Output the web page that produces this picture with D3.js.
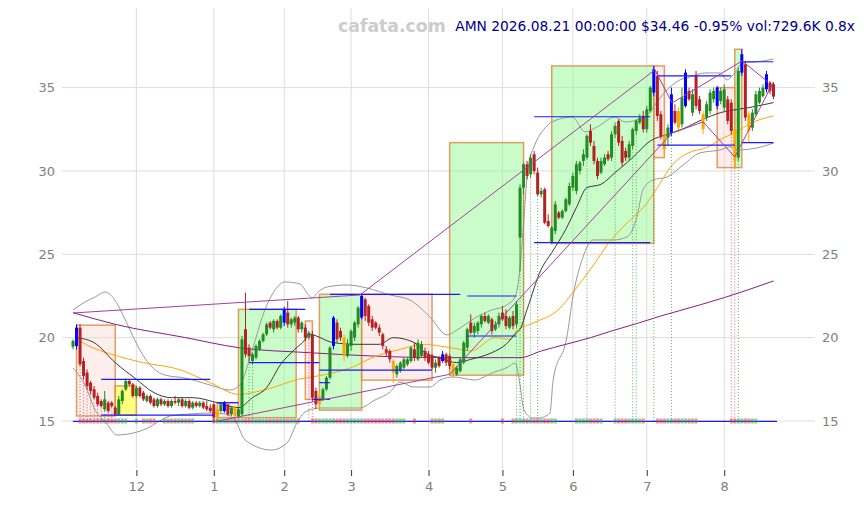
<!DOCTYPE html>
<html><head><meta charset="utf-8">
<script src="https://cdn.jsdelivr.net/npm/d3@7"></script>
<style>body{margin:0;background:#fff;} svg{display:block;font-family:"DejaVu Sans",sans-serif;}</style>
</head><body>
<svg id="c" width="864" height="505"></svg>
<script>
// ---- data ----
const ohlc = [
[19.45,19.9,19.3,19.8],[19.5,20.8,19.3,20.6],[20.6,20.8,18.3,18.4],[18.6,18.8,17.5,17.7],[17.9,18.1,16.9,17.1],
[17.3,17.4,16.6,16.8],[16.9,17.1,16.3,16.4],[16.5,16.7,15.9,16.0],[16.2,16.3,15.8,15.9],[15.7,16.8,15.6,16.3],
[16.1,16.2,15.5,15.6],[16.1,16.2,15.8,15.9],[15.8,15.9,15.3,15.4],[15.4,16.5,15.35,16.3],[16.2,16.9,16.0,16.8],
[16.9,17.55,16.8,17.4],[17.4,17.5,17.1,17.2],[17.2,17.3,16.4,16.5],[16.5,17.1,16.4,17.0],[17.0,17.1,16.4,16.5],
[16.7,16.8,16.2,16.3],[16.2,16.6,16.1,16.5],[16.5,16.6,16.0,16.1],[16.3,16.4,15.8,15.9],[15.9,16.4,15.8,16.3],
[16.3,16.4,15.9,16.0],[16.0,16.3,15.9,16.2],[16.2,16.3,15.8,15.9],[15.9,16.3,15.8,16.2],[16.2,16.5,16.0,16.1],
[16.1,16.4,15.9,16.3],[16.3,16.4,15.8,15.9],[15.9,16.3,15.8,16.2],[16.2,16.3,15.7,15.8],[15.8,16.2,15.7,16.1],
[16.1,16.2,15.8,15.9],[15.9,16.2,15.8,16.1],[16.1,16.2,15.7,15.8],[15.9,16.2,15.6,15.7],[15.8,16.0,15.5,15.6],
[16.0,16.1,14.9,15.2],[15.2,15.9,15.0,15.7],[15.6,16.1,15.5,16.0],[15.6,16.2,15.5,16.1],[16.0,16.0,15.3,15.4],
[15.4,15.9,15.3,15.8],[15.8,15.9,15.0,15.3],[15.3,15.8,15.2,15.7],[15.4,20.1,15.3,19.9],[20.5,22.7,18.8,19.0],
[19.4,19.6,18.6,18.9],[18.6,19.1,18.4,19.0],[18.8,19.6,18.7,19.5],[19.3,19.9,19.2,19.8],[19.8,20.3,19.7,20.2],
[20.2,20.9,20.1,20.8],[20.9,21.0,20.5,20.6],[20.5,21.1,20.3,21.0],[21.0,21.1,20.5,20.6],[20.6,21.4,20.5,21.3],
[20.9,21.85,20.7,21.7],[21.5,22.2,20.6,20.8],[20.8,21.2,20.6,21.1],[20.9,21.3,20.7,21.2],[21.2,21.3,20.3,20.5],
[20.5,21.0,20.3,20.9],[20.6,20.8,19.8,20.0],[20.0,20.4,19.9,20.3],[20.2,20.4,16.2,16.4],[16.8,17.0,15.7,16.0],
[16.0,16.8,15.8,16.5],[16.3,17.0,16.2,16.9],[16.9,17.7,16.8,17.6],[17.6,19.5,17.5,19.4],[19.5,21.3,19.3,21.2],
[20.9,21.1,19.7,19.9],[20.4,20.6,19.8,20.0],[20.0,20.2,18.6,18.9],[18.9,19.9,18.8,19.6],[19.5,20.5,19.2,20.4],
[20.0,21.0,19.8,20.9],[20.8,21.9,20.6,21.8],[21.2,22.65,21.1,22.5],[22.3,22.4,21.0,21.3],[21.9,22.0,20.7,20.9],
[21.1,21.3,20.4,20.6],[20.9,21.0,20.5,20.6],[20.6,20.8,20.1,20.3],[20.2,20.3,19.3,19.5],[19.3,19.5,18.9,19.1],
[19.2,19.3,18.5,18.7],[18.6,18.7,17.3,17.9],[17.8,18.4,17.6,18.3],[18.0,18.6,17.9,18.5],[18.2,18.8,18.1,18.7],
[18.4,18.8,18.3,18.7],[18.6,19.5,18.5,19.4],[19.3,19.7,18.6,18.8],[18.7,19.9,18.6,19.7],[18.9,19.8,18.8,19.6],
[19.2,19.4,18.6,18.8],[19.0,19.2,18.4,18.5],[18.9,19.0,18.1,18.2],[18.2,18.7,17.9,18.5],[18.8,18.9,18.2,18.3],
[18.6,19.2,18.5,19.0],[19.0,19.1,18.3,18.5],[18.9,19.0,18.1,18.3],[18.4,18.6,17.6,17.8],[17.8,18.3,17.7,18.2],
[18.0,18.8,17.9,18.7],[18.5,19.8,18.4,19.7],[19.4,20.6,19.2,20.5],[20.9,21.4,20.2,20.3],[20.3,20.9,20.0,20.7],
[20.4,21.0,20.2,20.9],[20.8,21.4,20.6,21.3],[21.3,21.5,20.9,21.0],[20.9,21.4,20.8,21.3],[21.1,21.2,20.2,20.4],
[20.5,21.0,20.4,20.8],[20.8,21.5,20.6,21.3],[21.5,21.9,21.0,21.1],[21.3,21.7,20.5,20.7],[20.6,21.3,20.5,21.2],
[21.3,21.6,20.5,20.7],[20.8,22.2,20.6,22.0],[26.0,29.2,24.0,29.0],[29.0,30.5,28.6,30.4],[30.4,30.6,29.5,29.7],
[29.8,31.0,29.6,30.8],[31.0,31.2,29.8,30.0],[29.9,30.2,28.5,28.6],[28.6,29.0,28.4,28.8],[28.9,29.0,26.8,26.9],
[27.0,27.4,26.6,26.7],[25.7,26.7,25.6,26.6],[26.4,28.2,26.2,28.0],[27.5,27.6,27.1,27.2],[27.2,27.7,27.1,27.6],
[27.6,28.4,27.5,28.3],[28.0,29.3,27.9,29.1],[29.0,29.9,28.8,29.7],[28.8,30.6,28.6,30.4],[30.0,30.6,29.8,30.5],
[30.6,31.3,30.3,31.0],[30.8,32.2,30.7,32.1],[32.4,32.8,31.5,31.7],[31.5,31.8,30.4,30.6],[30.6,30.8,29.5,29.7],
[29.9,30.8,29.8,30.6],[30.4,31.0,30.3,30.8],[31.0,31.2,30.6,30.7],[30.8,32.4,30.6,32.2],[32.2,32.9,32.0,32.7],
[33.0,33.1,31.5,31.7],[31.8,32.1,30.3,30.5],[31.2,31.4,30.6,30.8],[30.8,31.8,30.6,31.6],[31.5,32.6,31.3,32.5],
[32.4,33.1,32.2,33.0],[32.9,33.4,32.8,33.2],[33.3,33.6,32.3,32.5],[32.5,33.9,32.3,33.7],[33.6,35.1,33.5,35.0],
[34.7,36.3,34.5,36.1],[35.7,36.0,33.0,33.3],[33.4,33.6,31.9,32.1],[32.1,32.5,30.8,31.3],[32.0,32.8,31.5,32.6],
[32.3,35.0,32.1,34.6],[33.6,34.0,32.8,32.9],[33.6,33.8,32.3,32.6],[32.8,35.0,32.6,34.4],[33.9,36.1,33.8,35.9],
[34.8,35.0,34.2,34.3],[33.5,34.9,33.3,34.6],[35.7,36.0,33.7,33.9],[34.3,34.5,33.4,33.6],[33.4,33.6,32.2,32.5],
[33.2,34.2,33.0,34.0],[33.6,34.9,33.4,34.7],[34.3,35.0,34.1,34.8],[33.9,35.1,33.7,35.0],[34.2,35.0,34.0,34.8],
[33.8,35.2,33.6,34.9],[34.3,34.5,32.8,33.0],[34.1,34.3,32.2,32.4],[32.5,32.8,30.2,30.6],[30.8,36.2,30.6,36.0],
[35.9,37.3,35.7,37.0],[36.4,36.6,33.0,33.2],[33.4,33.6,31.7,32.4],[32.6,33.7,32.4,33.5],[33.4,34.8,33.3,34.6],
[34.1,35.0,34.0,34.8],[34.5,35.2,34.4,35.0],[34.9,36.0,34.7,35.8],[35.3,35.4,34.6,34.79],[35.2,35.3,34.3,34.46]
];
const blueIdx = [1,43,60,74,82,105,165,170,174,183,190,197];
const orangeIdx = [41,46,70,77,91,108,168,172,179,188,192];

const monthTickIdx = [18,40,60,79,101,122,142,163,185];
const monthTickLabels = ["12","1","2","3","4","5","6","7","8"];
const yTicks = [15,20,25,30,35];

const ma20 = [[1,20.0],[6,19.7],[12,18.5],[18,17.5],[23,16.7],[28,16.4],[34,16.4],[41,16.1],[47,15.8],[51,16.4],[55,17.0],[59,18.4],[63,19.3],[66,19.9],[67,20.2],[74,19.7],[81,19.6],[87,19.6],[91,20.0],[97,19.7],[100,19.1],[104,18.8],[109,18.5],[113,18.7],[119,19.1],[123,19.6],[126,20.3],[127,20.5],[129,21.7],[133,24.1],[136,25.1],[140,26.5],[143,27.8],[146,29.0],[150,29.2],[154,29.9],[159,30.8],[164,31.8],[169,32.2],[173,32.5],[179,33.1],[184,33.5],[189,33.7],[192,33.8],[199,34.1]];
const ma50 = [[2,19.8],[4,19.55],[11,19.0],[20,18.5],[30,18.1],[39,17.3],[47,16.6],[55,16.9],[64,17.5],[72,17.8],[79,18.2],[85,18.8],[93,19.3],[100,19.6],[104,19.5],[110,19.3],[113,19.2],[120,20.0],[124,19.9],[126,20.4],[131,20.9],[138,21.7],[142,22.7],[147,24.1],[153,25.9],[159,27.2],[162,27.8],[166,29.0],[170,30.3],[175,31.1],[180,31.4],[184,31.9],[189,32.4],[192,32.8],[199,33.3]];
const ma200 = [[0,21.5],[12,20.8],[32,20.0],[47,19.4],[67,19.1],[85,18.9],[104,18.8],[127,18.8],[133,19.2],[140,19.6],[147,20.0],[153,20.4],[161,20.9],[167,21.3],[172,21.6],[185,22.4],[199,23.4]];
const bbUpper = [[0,21.66],[3.4,22.14],[6.3,22.44],[9.1,22.74],[11.9,22.26],[13.9,21.48],[16.2,20.46],[19,19.26],[21.9,18.36],[26.1,17.76],[31.8,17.58],[38.9,17.16],[44.6,16.86],[47.4,17.16],[50.9,19.26],[54.5,21.66],[57.4,22.86],[60.2,23.34],[64.5,23.22],[66.5,22.68],[67.9,22.38],[69.6,22.74],[72.2,23.04],[77.8,23.16],[83.5,22.98],[90.1,22.56],[95.7,22.26],[101.4,21.24],[106.3,20.16],[109.1,20.46],[114.2,21.18],[119,21.66],[122.7,21.9],[125.6,22.44],[127,24.24],[127.8,26.28],[129.3,30.24],[131.2,31.56],[134.1,32.58],[136.1,32.94],[141.8,33.24],[145.5,32.34],[148.9,32.64],[154,33.24],[156.8,32.94],[162.5,33.24],[165.3,33.96],[168.2,34.74],[172.4,35.46],[175.3,35.64],[179.5,35.88],[183.8,35.88],[185.8,35.46],[187.5,35.76],[190.3,36.48],[194.3,36.54],[199,36.72]];
const bbLower = [[0,18.18],[3.4,17.16],[6.3,15.66],[9.4,14.88],[12.5,14.16],[18.2,14.34],[21.3,14.58],[24.1,14.94],[27.6,15.3],[33.2,15.42],[38.9,15.48],[43.2,15.42],[46,15.06],[48.9,13.86],[56.3,13.26],[60.8,13.68],[63.6,14.88],[65.9,15.54],[70.2,15.78],[75.9,15.78],[81.5,15.78],[85.8,16.26],[90.1,16.74],[92.9,17.34],[96.6,17.04],[101.4,17.04],[104.3,17.46],[108,17.64],[114.2,17.46],[119,17.88],[123.6,18.24],[125.6,18.48],[127,17.16],[128.1,15.66],[130.7,15.18],[132.4,15.18],[135.5,15.48],[136.4,17.46],[140.3,20.04],[142,22.44],[144.9,24.84],[147.7,25.86],[153.4,25.86],[157.4,26.04],[160.2,27.24],[161.9,28.86],[164.8,29.46],[168.8,29.64],[173.3,30.36],[178.1,31.08],[183.8,31.26],[186.6,31.44],[188.6,31.26],[194.3,31.38],[199,31.68]];

// boxes: [fromIdx, toIdx, top, bottom, kind]
const boxes = [[1,12,20.75,15.3,"down"],[12,18,17.1,15.35,"flat"],[41,47,16.1,15.2,"down"],[47,63.4,21.7,15.2,"up"],
  [66,68,21.0,16.3,"down"],[70,82,22.6,15.65,"up"],[82,102,22.6,17.45,"down"],[107,128,31.7,17.75,"up"],
  [136,165,36.3,25.65,"up"],[165,168,36.3,30.8,"down"],[183,188,35.0,30.2,"down"],[188,190,37.3,30.2,"up"]];
// horizontal levels: [fromIdx, toIdx, value]
const levels = [[8,39,17.5],[8,40,15.35],[0,200,14.98],[41,47,16.1],[50,66,21.7],[50,70,18.5],[73,110,22.6],[70,102,18.05],
  [70,73,17.3],[68,73,16.3],[112,126,22.5],[112,126,20.1],[131,164,33.25],[131,164,25.7],[166,187,35.7],[166,188,31.55],
  [190,199,36.55],[190,199,31.7]];
const trend1 = [[0,21.48],[81.5,22.56],[165.3,36.06],[170.2,34.08],[190.1,36.6],[197.4,35.34]];
const trend2 = [[40,14.95],[107,17.8],[170.2,32.28],[179,32.94],[188,30.84],[199,35.34]];
const dotUp = [50,51,126,127,128,130,132,146,154,159,160,165,170,189];
const dotDown = [2,3,4,5,6,7,8,9,10,11,67,68,187,188];
const volRanges = [[2,15],[18,18],[20,23],[26,34],[40,64],[68,94],[97,97],[102,105],[113,113],[122,122],[125,137],[143,150],[154,162],[166,177],[187,194]];

// ---- drawing ----
const svg = d3.select("#c");
const x = d3.scaleLinear().domain([0,199]).range([73,773.5]);
const y = d3.scaleLinear().domain([15,35]).range([421,87.6]);
const L = 62, R = 815, T = 8, B = 468;

// grid
svg.append("g").selectAll("line").data(monthTickIdx).join("line")
  .attr("x1",d=>x(d)).attr("x2",d=>x(d)).attr("y1",T).attr("y2",B)
  .attr("stroke","#dcdcdc").attr("stroke-width",1);
svg.append("g").selectAll("line").data(yTicks).join("line")
  .attr("x1",L).attr("x2",R).attr("y1",d=>y(d)).attr("y2",d=>y(d))
  .attr("stroke","#dcdcdc").attr("stroke-width",1);

// axes
const gx = svg.append("g").attr("transform",`translate(0,470)`)
  .call(d3.axisBottom(x).tickValues(monthTickIdx).tickFormat((d,i)=>monthTickLabels[i]).tickSize(6).tickPadding(6));
gx.select(".domain").remove();
gx.selectAll("line").attr("stroke","#333");
gx.selectAll("text").attr("fill","#808080").attr("font-size",13).attr("font-family","DejaVu Sans");
const gl = svg.append("g").attr("transform",`translate(${L},0)`)
  .call(d3.axisLeft(y).tickValues(yTicks).tickSize(0).tickPadding(7));
const gr = svg.append("g").attr("transform",`translate(${R},0)`)
  .call(d3.axisRight(y).tickValues(yTicks).tickSize(0).tickPadding(7));
[gl,gr].forEach(g=>{g.select(".domain").remove();
  g.selectAll("text").attr("fill","#808080").attr("font-size",13).attr("font-family","DejaVu Sans");});

// boxes
const boxFill = {up:"rgba(150,250,150,0.5)",down:"rgba(250,215,210,0.45)",flat:"rgba(255,255,0,0.5)"};
svg.append("g").selectAll("rect").data(boxes).join("rect")
  .attr("x",d=>x(d[0])).attr("width",d=>x(d[1])-x(d[0]))
  .attr("y",d=>y(d[2])).attr("height",d=>y(d[3])-y(d[2]))
  .attr("fill",d=>boxFill[d[4]]).attr("stroke","rgba(225,140,70,0.85)").attr("stroke-width",1.5);

const line = d3.line().x(d=>x(d[0])).y(d=>y(d[1])).curve(d3.curveMonotoneX);
const straight = d3.line().x(d=>x(d[0])).y(d=>y(d[1]));
svg.append("path").datum(bbUpper).attr("d",line).attr("fill","none").attr("stroke","#999").attr("stroke-width",1);
svg.append("path").datum(bbLower).attr("d",line).attr("fill","none").attr("stroke","#999").attr("stroke-width",1);
svg.append("path").datum(ma200).attr("d",line).attr("fill","none").attr("stroke","#8b1a8b").attr("stroke-width",1);
svg.append("path").datum(ma50).attr("d",line).attr("fill","none").attr("stroke","#ffa500").attr("stroke-width",1);
svg.append("path").datum(ma20).attr("d",line).attr("fill","none").attr("stroke","#222").attr("stroke-width",0.9);

// dotted markers
const dots = dotUp.map(i=>[i,"#2e9b2e"]).concat(dotDown.map(i=>[i,"#d04040"]));
svg.append("g").selectAll("line").data(dots).join("line")
  .attr("x1",d=>x(d[0])).attr("x2",d=>x(d[0])).attr("y1",d=>y(ohlc[d[0]][2])).attr("y2",y(15))
  .attr("stroke",d=>d[1]).attr("stroke-width",0.8).attr("stroke-dasharray","1,2");

// candles
const bars = ohlc.map((d,i)=>({i,o:d[0],h:d[1],l:d[2],c:d[3]}));
const col = b => blueIdx.includes(b.i) ? "#0000ff" : orangeIdx.includes(b.i) ? "#ffa500" : (b.c>=b.o ? "#228b22" : "#b22222");
const cg = svg.append("g");
cg.selectAll("line").data(bars).join("line")
  .attr("x1",b=>x(b.i)).attr("x2",b=>x(b.i)).attr("y1",b=>y(b.h)).attr("y2",b=>y(b.l))
  .attr("stroke",col).attr("stroke-width",1);
cg.selectAll("rect").data(bars).join("rect")
  .attr("x",b=>x(b.i)-1.5).attr("width",3)
  .attr("y",b=>y(Math.max(b.o,b.c))).attr("height",b=>Math.max(1,Math.abs(y(b.o)-y(b.c))))
  .attr("fill",col);

// levels
svg.append("g").selectAll("line").data(levels).join("line")
  .attr("x1",d=>x(d[0])).attr("x2",d=>x(d[1])).attr("y1",d=>y(d[2])).attr("y2",d=>y(d[2]))
  .attr("stroke","#1a1aff").attr("stroke-width",1.2);

// trend lines
[trend1,trend2].forEach(t=>svg.append("path").datum(t).attr("d",straight).attr("fill","none")
  .attr("stroke","#a040a0").attr("stroke-width",1));

// volume markers
const volIdx = volRanges.flatMap(r=>d3.range(r[0],r[1]+1));
svg.append("g").selectAll("rect").data(volIdx).join("rect")
  .attr("x",i=>x(i)-1.5).attr("width",3).attr("y",y(15)-2.5).attr("height",5)
  .attr("fill",i=>ohlc[i][3]>=ohlc[i][0] ? "rgba(60,160,60,0.55)" : "rgba(210,70,70,0.55)");

// texts
svg.append("text").attr("x",338).attr("y",32).attr("font-size",17.3).attr("font-weight","bold")
  .attr("fill","#cccccc").text("cafata.com");
svg.append("text").attr("x",855).attr("y",31).attr("text-anchor","end").attr("font-size",13.8)
  .attr("fill","#00008b").text("AMN 2026.08.21 00:00:00 $34.46 -0.95% vol:729.6K 0.8x");
</script>
</body></html>
